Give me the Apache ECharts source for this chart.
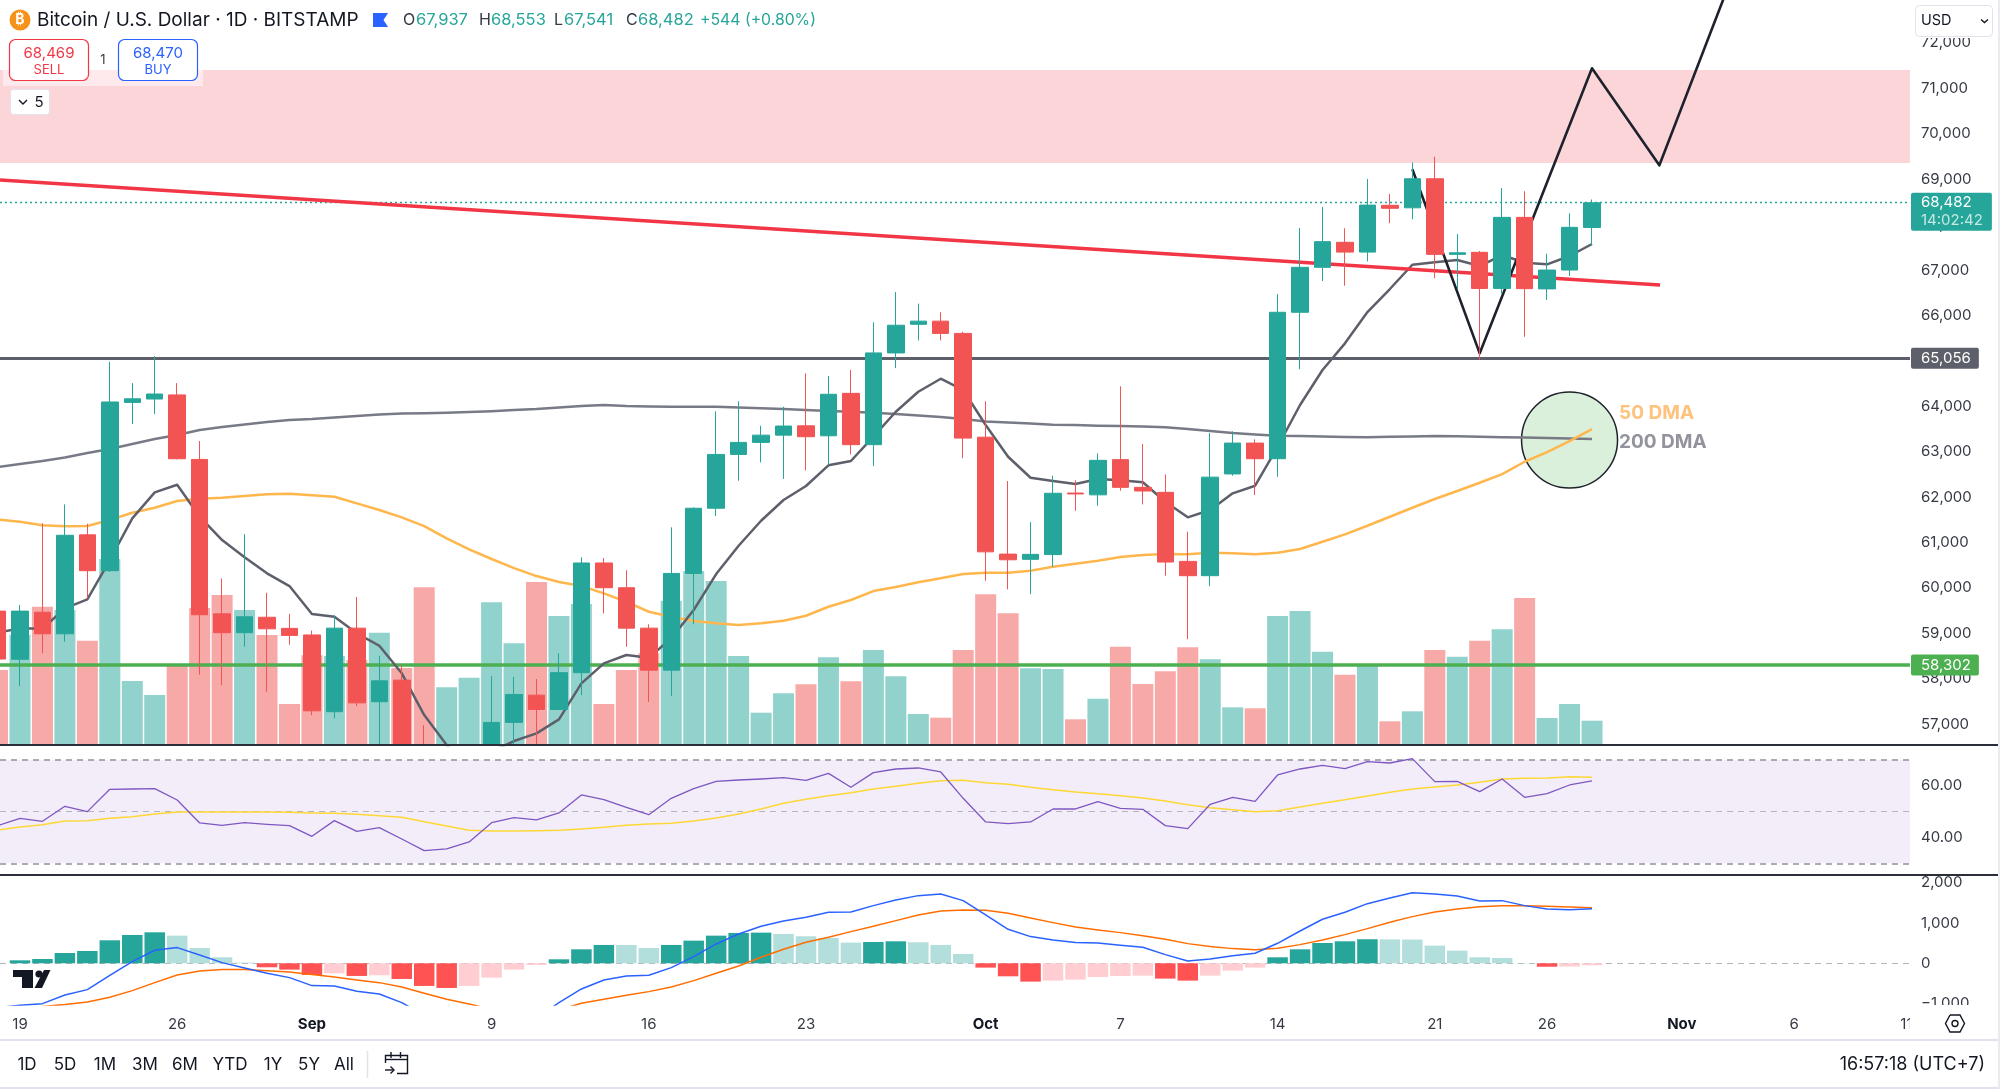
<!DOCTYPE html>
<html>
<head>
<meta charset="utf-8">
<style>
  html, body { margin: 0; padding: 0; background: #fff; }
  #main { width: 2000px; height: 1089px; }
</style>
<script src="https://cdn.jsdelivr.net/npm/echarts@6/dist/echarts.min.js"></script>
</head>
<body>
<div id="main"></div>
<script>
// day number of each candle, 0 = Aug 19
const firstDay = -1
const priceOpen = [
  59490, 58430, 59465, 58990, 61170, 60380, 64085, 64160, 64250, 62830,
  59430, 59015, 59355, 59110, 58965, 57275, 59115, 57495, 57970, 56545,
  55700, 56200, 56542, 57040, 57640, 57325, 58135, 60550, 60005, 59115,
  58190, 60320, 61755, 62940, 63205, 63365, 63570, 63350, 64285, 63155,
  65175, 65805, 65875, 65605, 63320, 60745, 60630, 60735, 62090, 62050,
  62825, 62215, 62105, 60585, 60270, 62510, 63190, 62845, 66070, 67060,
  67610, 67395, 68425, 68370, 69010, 67345, 67390, 66595, 68160, 66585,
  67000, 67937
]
const priceClose = [
  58435, 59490, 58990, 61160, 60380, 64095, 64165, 64270, 62845, 59410,
  59015, 59365, 59100, 58955, 57295, 59115, 57470, 57955, 56542, 56542,
  56200, 56450, 57040, 57655, 57325, 58135, 60550, 60005, 59115, 58190,
  60320, 61755, 62940, 63205, 63365, 63565, 63330, 64265, 63155, 65175,
  65785, 65875, 65605, 63300, 60795, 60620, 60740, 62085, 62070, 62810,
  62215, 62135, 60570, 60270, 62440, 63190, 62845, 66070, 67060, 67625,
  67395, 68430, 68360, 69010, 67345, 67380, 66595, 68160, 66590, 67000,
  67940, 68482
]
const priceLow = [
  58300, 57840, 58560, 58815, 59770, 60355, 63610, 63830, 62830, 58090,
  57860, 58705, 57715, 58750, 57200, 57130, 57400, 56542, 56542, 56542,
  55500, 56000, 56542, 56542, 56542, 57310, 57640, 59440, 58705, 57490,
  57620, 59200, 61585, 62360, 62765, 62400, 62590, 62715, 62940, 62685,
  64840, 65450, 65450, 62860, 60160, 59970, 59865, 60465, 61700, 61810,
  62140, 61840, 60270, 58870, 60040, 62470, 62045, 62450, 64815, 66760,
  66655, 67190, 68030, 68115, 66820, 66575, 65020, 66485, 65530, 66340,
  66870, 67541
]
const priceHigh = [
  59600, 59625, 61425, 61840, 61415, 64980, 64510, 65105, 64510, 63235,
  60210, 61185, 59895, 59425, 59060, 59395, 59800, 58505, 58300, 56980,
  56400, 56500, 58060, 58040, 57995, 58560, 60675, 60660, 60390, 59200,
  61335, 61775, 63890, 64110, 63570, 63990, 64725, 64665, 64800, 65850,
  66515, 66260, 66070, 65640, 64110, 62355, 61450, 62470, 62370, 62965,
  64440, 63170, 62500, 61240, 63410, 63450, 63270, 66470, 67925, 68390,
  67920, 69005, 68675, 69370, 69495, 67795, 67420, 68805, 68735, 67360,
  68250, 68553
]
const volume = [
  750, 1103, 1383, 1350, 1043, 1860, 640, 500, 790, 1370,
  1500, 1350, 1100, 410, 897, 890, 850, 1123, 770, 1577,
  577, 673, 1427, 1017, 1630, 1290, 1410, 410, 750, 917,
  1443, 1740, 1640, 890, 323, 517, 607, 877, 637, 950,
  687, 310, 273, 950, 1507, 1317, 767, 760, 257, 463,
  983, 610, 737, 977, 857, 377, 367, 1290, 1340, 933,
  703, 810, 237, 337, 950, 883, 1043, 1157, 1470, 270,
  410, 243
]
const ma9 = [
  59014, 59111, 59102, 59551, 59749, 60615, 61533, 62105, 62273, 61568,
  61055, 60674, 60322, 60042, 59426, 59366, 59000, 58727, 58120, 57201,
  56541, 56000, 56400, 56629, 56798, 57107, 57899, 58340, 58523, 58463,
  58890, 59514, 60306, 60929, 61480, 61936, 62244, 62700, 62795, 63330,
  63880, 64321, 64607, 64358, 63587, 62889, 62427, 62354, 62288, 62398,
  62370, 62326, 61898, 61555, 61716, 62083, 62251, 63109, 64028, 64798,
  65386, 66076, 66582, 67117, 67170, 67221, 67088, 67331, 67161, 67126,
  67309, 67573
]
const ma50 = [
  61506, 61458, 61379, 61357, 61363, 61495, 61656, 61766, 61914, 61964,
  61986, 62024, 62061, 62075, 62039, 62008, 61863, 61716, 61555, 61363,
  61092, 60850, 60637, 60438, 60262, 60130, 60042, 59881, 59696, 59476,
  59366, 59271, 59221, 59183, 59221, 59278, 59388, 59586, 59734, 59932,
  60020, 60124, 60212, 60306, 60335, 60335, 60379, 60467, 60533, 60599,
  60681, 60725, 60747, 60740, 60775, 60762, 60740, 60775, 60857, 61018,
  61180, 61370, 61568, 61766, 61958, 62134, 62317, 62508, 62779, 62993,
  63235, 63499
]
const ma200 = [
  62662, 62729, 62795, 62872, 62971, 63059, 63169, 63279, 63367, 63477,
  63543, 63598, 63653, 63697, 63719, 63752, 63785, 63818, 63840, 63845,
  63858, 63874, 63891, 63918, 63940, 63973, 64006, 64028, 64006, 63995,
  63990, 63990, 63990, 63973, 63955, 63940, 63918, 63896, 63880, 63858,
  63830, 63796, 63763, 63719, 63664, 63642, 63620, 63594, 63587, 63572,
  63565, 63554, 63537, 63499, 63455, 63411, 63378, 63352, 63345, 63334,
  63323, 63317, 63328, 63334, 63345, 63341, 63330, 63317, 63312, 63301,
  63290, 63279
]
const rsi = [
  44.6, 47.43, 46.27, 52.08, 50.01, 58.65, 58.78, 58.91, 54.53, 45.63,
  44.73, 45.76, 45.11, 44.6, 40.47, 46.53, 42.4, 43.82, 39.44, 34.93,
  35.57, 38.28, 45.76, 47.69, 46.79, 49.5, 56.46, 54.66, 51.69, 48.85,
  55.17, 58.91, 61.75, 62.26, 62.65, 63.17, 62.13, 64.84, 59.43, 65.1,
  66.52, 66.91, 65.36, 55.17, 46.02, 45.37, 46.02, 51.04, 51.04, 53.88,
  51.3, 50.92, 44.6, 43.44, 52.85, 55.56, 54.01, 64.2, 66.52, 67.94,
  66.65, 69.36, 68.84, 70.52, 61.62, 61.75, 57.75, 62.65, 55.56, 56.98,
  60.33, 61.88
]
const rsiMa = [
  42.92, 44.08, 44.98, 46.4, 46.53, 47.43, 48.08, 49.11, 49.88, 49.88,
  49.88, 49.88, 49.88, 49.75, 49.5, 49.37, 48.98, 48.47, 47.82, 46.14,
  44.47, 42.79, 42.53, 42.53, 42.66, 42.79, 43.31, 43.95, 44.73, 45.24,
  45.5, 46.4, 47.56, 49.11, 51.04, 53.24, 54.78, 56.2, 57.36, 58.78,
  59.81, 60.97, 62.0, 62.13, 61.23, 60.59, 59.43, 58.52, 57.62, 56.98,
  56.2, 55.3, 54.14, 52.72, 51.56, 50.79, 50.01, 50.4, 51.82, 53.24,
  54.66, 56.07, 57.49, 58.78, 59.56, 60.33, 61.36, 62.65, 62.91, 63.04,
  63.55, 63.29
]
const macd = [
  -1100, -1042, -1001, -786, -653, -298, 41, 323, 389, 207,
  17, -116, -248, -356, -554, -562, -695, -761, -976, -1282,
  -1489, -1654, -1737, -1654, -1365, -976, -637, -414, -314, -298,
  -107, 165, 480, 728, 918, 1050, 1141, 1265, 1274, 1431,
  1571, 1679, 1720, 1555, 1199, 844, 662, 579, 513, 504,
  447, 397, 215, 58, 108, 190, 248, 496, 802, 1092,
  1265, 1480, 1621, 1753, 1720, 1671, 1546, 1555, 1431, 1348,
  1331, 1356
]
const macdSignal = [
  -1571, -1323, -1075, -1025, -959, -844, -678, -480, -289, -190,
  -157, -157, -182, -215, -281, -339, -414, -480, -587, -744,
  -893, -1009, -1141, -1257, -1282, -1158, -992, -893, -794, -703,
  -587, -430, -248, -66, 149, 347, 521, 645, 786, 918,
  1059, 1199, 1298, 1323, 1315, 1241, 1125, 1009, 901, 827,
  761, 686, 595, 488, 414, 364, 339, 372, 463, 579,
  711, 860, 1017, 1158, 1274, 1348, 1406, 1431, 1431, 1414,
  1398, 1381
]
const macdHist = [
  0, 74, 107, 256, 306, 571, 703, 769, 686, 380,
  149, 17, -99, -157, -289, -248, -314, -298, -389, -562,
  -612, -562, -356, -157, -41, 99, 347, 455, 455, 380,
  455, 562, 686, 753, 761, 728, 670, 628, 513, 529,
  546, 521, 455, 232, -107, -323, -455, -430, -405, -339,
  -314, -306, -380, -430, -306, -182, -107, 149, 347, 504,
  546, 597, 593, 590, 438, 314, 149, 132, 8, -85,
  -80, -50
]

const priceTicks = [57000, 58000, 59000, 60000, 61000, 62000, 63000, 64000, 65000, 66000, 67000, 68000, 69000, 70000, 71000, 72000]
const rsiTicks = [40, 60]
const macdTicks = [-1000, 0, 1000, 2000]
const dayTicks = [0, 7, 13, 21, 28, 35, 43, 49, 56, 63, 68, 74, 79, 84]
const dayLabels = ['19', '26', 'Sep', '9', '16', '23', 'Oct', '7', '14', '21', '26', 'Nov', '6', '11']
const monthLabels = ['Sep', 'Oct', 'Nov']

// drawings on the price pane
const zoneTop = 71404
const zoneBottom = 69356
const supportLevel = 65056
const lowLevel = 58302
const lastPrice = 68482
const trendDays = [-0.89, 73.03]
const trendPrices = [68982, 66670]
const zigzagDays = [62, 65, 70, 73, 76]
const zigzagPrices = [69218, 65166, 71442, 69306, 73157]
const crossDay = 69
const crossPrice = 63257

const UP = '#26a69a'
const DOWN = '#f25353'
const FONT = 'Inter, "Noto Sans", sans-serif'
const TEXT = '#363a45'

const dayOf = i => i + firstDay
const zip = arr => arr.map((v, i) => [dayOf(i), v])

const xRange = { min: -0.89, max: 84.16 }
const labelStyle = { color: TEXT, fontFamily: FONT, fontSize: 15, margin: 11 }
const noAxisParts = { axisLine: { show: false }, axisTick: { show: false }, splitLine: { show: false } }

const volumeData = volume.map((v, i) => ({
  value: [dayOf(i), v],
  itemStyle: { color: priceClose[i] >= priceOpen[i] ? 'rgba(38,166,154,0.5)' : 'rgba(239,83,80,0.5)' }
}))

const histData = macdHist.map((v, i) => {
  const prev = i ? macdHist[i - 1] : 0
  let color
  if (v >= 0) color = v > prev ? '#26a69a' : '#b2dfdb'
  else color = v < prev ? '#ff5252' : '#ffcdd2'
  return { value: [dayOf(i), v], itemStyle: { color } }
})

const candleData = priceOpen.map((o, i) => [dayOf(i), o, priceClose[i], priceLow[i], priceHigh[i]])

const lineSeries = (name, data, color, width, z, gridIdx) => ({
  name, type: 'line', data, xAxisIndex: gridIdx, yAxisIndex: gridIdx === 0 ? 0 : gridIdx + 1,
  showSymbol: false, symbol: 'none', silent: true, z,
  lineStyle: { color, width, join: 'round' }
})

const levelBox = (color) => ({
  show: true, position: 'end', distance: 1, color: '#fff', fontFamily: FONT, fontSize: 15,
  backgroundColor: color, borderRadius: 2, padding: [3, 8, 3, 10],
  formatter: p => p.value.toLocaleString('en-US')
})

const levelSeries = (value, color, width, dash, label) => ({
  type: 'line', data: [], xAxisIndex: 0, yAxisIndex: 0, z: 3, silent: true,
  markLine: {
    silent: true, symbol: 'none', animation: false, z: 3,
    lineStyle: { color, width, type: dash, opacity: 1 },
    label,
    data: [{ yAxis: value }]
  }
})

const gText = (text, x, y, fill, font, extra) => ({
  type: 'text', z: 12, silent: true,
  style: Object.assign({ text, x, y, fill, font: font + ' ' + FONT, verticalAlign: 'middle', textVerticalAlign: 'middle' }, extra)
})
const gRect = (x, y, width, height, style, r, z) => ({
  type: 'rect', z: z || 11, silent: true, shape: { x, y, width, height, r: r || 0 }, style
})
const gPoly = (points, fill) => ({ type: 'polygon', z: 12, silent: true, shape: { points }, style: { fill } })
const gStroke = (points, lineWidth) => ({
  type: 'polyline', z: 12, silent: true, shape: { points }, style: { fill: 'none', stroke: '#131722', lineWidth: lineWidth || 1.4 }
})
const gLine = (x1, y1, x2, y2, stroke, lineWidth, z) => ({
  type: 'line', z: z || 12, silent: true, shape: { x1, y1, x2, y2 }, style: { stroke, lineWidth }
})

const rangeButtons = [['1D', 27], ['5D', 65], ['1M', 105], ['3M', 145], ['6M', 185], ['YTD', 230], ['1Y', 273], ['5Y', 309], ['All', 344]]

const graphics = [
  // covers what runs past the panes (cut off -1,000, 11 and 72,000)
  gRect(1910, 1005, 90, 34, { fill: '#fff' }, 0, 10),
  gRect(1910, 0, 90, 38, { fill: '#fff' }, 0, 10),
  // pane dividers and footer
  gLine(0, 745, 2000, 745, '#2a2e39', 2),
  gLine(0, 875, 2000, 875, '#2a2e39', 2),
  gLine(0, 1040, 2000, 1040, '#e0e3eb', 2),
  gLine(0, 1088, 2000, 1088, '#e0e3eb', 2),
  gLine(1999, 0, 1999, 1089, '#e9ebf0', 2),
  // header
  { type: 'circle', z: 12, silent: true, shape: { cx: 20, cy: 20, r: 10.5 }, style: { fill: '#f7931a' } },
  gText('₿', 20, 20, '#fff', 'bold 14px', { align: 'center', textAlign: 'center' }),
  gText('Bitcoin / U.S. Dollar · 1D · BITSTAMP', 37, 20, '#131722', '19px'),
  gPoly([[373, 13], [388, 13], [383.5, 20], [388, 27], [373, 27]], '#2962ff'),
  gText('O', 403, 20, TEXT, '16px'),
  gText('67,937', 416, 20, UP, '16.5px'),
  gText('H', 479, 20, TEXT, '16px'),
  gText('68,553', 491, 20, UP, '16.5px'),
  gText('L', 554, 20, TEXT, '16px'),
  gText('67,541', 564, 20, UP, '16.5px'),
  gText('C', 626, 20, TEXT, '16px'),
  gText('68,482', 638, 20, UP, '16.5px'),
  gText('+544 (+0.80%)', 700, 20, UP, '15.8px'),
  // order buttons
  gRect(3, 35, 200, 51, { fill: 'rgba(255,255,255,0.5)' }, 0, 11),
  gRect(9.5, 39.5, 79, 41, { fill: '#fff', stroke: '#f23645', lineWidth: 1.2 }, 6),
  gText('68,469', 49, 53, '#f23645', '15px', { align: 'center', textAlign: 'center' }),
  gText('SELL', 49, 70, '#f23645', '13px', { align: 'center', textAlign: 'center' }),
  gText('1', 103, 60, TEXT, '13px', { align: 'center', textAlign: 'center' }),
  gRect(118.5, 39.5, 79, 41, { fill: '#fff', stroke: '#2962ff', lineWidth: 1.2 }, 6),
  gText('68,470', 158, 53, '#2962ff', '15px', { align: 'center', textAlign: 'center' }),
  gText('BUY', 158, 70, '#2962ff', '13px', { align: 'center', textAlign: 'center' }),
  gRect(10.5, 89.5, 39, 25, { fill: '#fff', stroke: '#e0e3eb', lineWidth: 1 }, 3),
  gStroke([[19, 100], [23, 104], [27, 100]]),
  gText('5', 39, 102, '#131722', '15px', { align: 'center', textAlign: 'center' }),
  // currency box
  gRect(1915.5, 5.5, 77, 31, { fill: '#fff', stroke: '#e0e3eb', lineWidth: 1 }, 4, 11),
  gText('USD', 1921, 21, '#131722', '14.5px'),
  gStroke([[1981, 19.5], [1984.5, 22.5], [1988, 19.5]]),
  // chart captions
  gText('50 DMA', 1619, 413, '#fdc27c', 'bold 19px'),
  gText('200 DMA', 1619, 442, '#92939d', 'bold 19px'),
  // logo
  gPoly([[13, 970], [33, 970], [33, 988], [22, 988], [22, 977], [13, 977]], '#131722'),
  { type: 'circle', z: 12, silent: true, shape: { cx: 39, cy: 974, r: 3.6 }, style: { fill: '#131722' } },
  gPoly([[44, 970], [50.5, 970], [42, 988], [34.5, 988]], '#131722'),
  // footer
  gLine(367.5, 1051, 367.5, 1078, '#e0e3eb', 1.5),
  gStroke([[385.5, 1063], [385.5, 1055.5], [407.5, 1055.5], [407.5, 1073.5], [397, 1073.5]]),
  gStroke([[385.5, 1059.5], [407.5, 1059.5]]),
  gStroke([[391, 1052], [391, 1058]]),
  gStroke([[400.5, 1052], [400.5, 1058]]),
  gStroke([[385, 1070], [393.5, 1070]]),
  gStroke([[390.5, 1066.5], [394, 1070], [390.5, 1073.5]]),
  gText('16:57:18 (UTC+7)', 1985, 1065, '#131722', '18px', { align: 'right', textAlign: 'right' }),
  gStroke([[1950, 1015], [1960, 1015], [1964.5, 1023.5], [1960, 1032], [1950, 1032], [1945.5, 1023.5], [1950, 1015]]),
  { type: 'circle', z: 13, silent: true, shape: { cx: 1955, cy: 1023.5, r: 3 }, style: { fill: 'none', stroke: '#131722', lineWidth: 1.4 } }
].concat(rangeButtons.map(b => gText(b[0], b[1], 1065, '#131722', '17px', { align: 'center', textAlign: 'center' })))

const option = {
  animation: false,
  backgroundColor: '#fff',
  grid: [
    { left: 0, top: 0, width: 1910, height: 745 },
    { left: 0, top: 745, width: 1910, height: 130 },
    { left: 0, top: 875, width: 1910, height: 130 }
  ],
  xAxis: [
    Object.assign({ type: 'value', gridIndex: 0, axisLabel: { show: false } }, xRange, noAxisParts),
    Object.assign({ type: 'value', gridIndex: 1, axisLabel: { show: false } }, xRange, noAxisParts),
    Object.assign({
      type: 'value', gridIndex: 2, z: 1,
      axisLabel: Object.assign({}, labelStyle, {
        customValues: dayTicks, margin: 12,
        hideOverlap: false, showMinLabel: true, showMaxLabel: true,
        formatter: v => {
          const t = dayLabels[dayTicks.indexOf(v)]
          return monthLabels.includes(t) ? '{m|' + t + '}' : t
        },
        rich: { m: { fontFamily: FONT, fontSize: 15, fontWeight: 'bold', color: '#131722' } }
      })
    }, xRange, noAxisParts)
  ],
  yAxis: [
    Object.assign({
      type: 'value', gridIndex: 0, position: 'right', min: 56542, max: 72946,
      axisLabel: Object.assign({}, labelStyle, {
        customValues: priceTicks,
        formatter: v => v.toLocaleString('en-US')
      })
    }, noAxisParts),
    Object.assign({ type: 'value', gridIndex: 0, position: 'right', min: 0, max: 7450, axisLabel: { show: false } }, noAxisParts),
    Object.assign({
      type: 'value', gridIndex: 1, position: 'right', min: 25.5, max: 75.8,
      axisLabel: Object.assign({}, labelStyle, {
        customValues: rsiTicks,
        formatter: v => v.toFixed(2)
      })
    }, noAxisParts),
    Object.assign({
      type: 'value', gridIndex: 2, position: 'right', min: -1035, max: 2191,
      axisLabel: Object.assign({}, labelStyle, {
        customValues: macdTicks,
        formatter: v => (v < 0 ? '−' : '') + Math.abs(v).toLocaleString('en-US')
      })
    }, noAxisParts)
  ],
  series: [
    // supply zone
    {
      type: 'line', data: [], xAxisIndex: 0, yAxisIndex: 0, z: 1, silent: true,
      markArea: {
        silent: true, z: 1,
        itemStyle: { color: '#fcd5d9' },
        data: [[{ yAxis: zoneBottom }, { yAxis: zoneTop }]]
      }
    },
    {
      name: 'Volume', type: 'bar', data: volumeData, xAxisIndex: 0, yAxisIndex: 1,
      barWidth: 21, z: 2, silent: true
    },
    // circle marking the crossover
    {
      type: 'line', data: [], xAxisIndex: 0, yAxisIndex: 0, z: 2, silent: true,
      markPoint: {
        silent: true, symbol: 'circle', symbolSize: 96, z: 2,
        itemStyle: { color: '#dbf0db', borderColor: '#1e222d', borderWidth: 1.5 },
        label: { show: false },
        data: [{ coord: [crossDay, crossPrice] }]
      }
    },
    levelSeries(supportLevel, '#5d606b', 3, 'solid', levelBox('#5d606b')),
    levelSeries(lowLevel, '#4caf50', 3.5, 'solid', levelBox('#4caf50')),
    levelSeries(lastPrice, UP, 1.3, [2, 3], {
      show: true, position: 'end', distance: 1, color: '#fff', fontFamily: FONT, fontSize: 15,
      backgroundColor: UP, borderRadius: 2, padding: [1, 9, 1, 10], lineHeight: 18, offset: [0, 9],
      formatter: '68,482\n{t|14:02:42}',
      rich: { t: { color: '#c6e8e3', fontFamily: FONT, fontSize: 15, lineHeight: 18 } }
    }),
    lineSeries('MA 200', zip(ma200), '#787b86', 2.5, 3, 0),
    lineSeries('MA 50', zip(ma50), '#ffb74d', 2.5, 3, 0),
    lineSeries('MA 9', zip(ma9), '#5d606b', 2.5, 3, 0),
    lineSeries('Trend', trendDays.map((d, i) => [d, trendPrices[i]]), '#f23645', 3.5, 3, 0),
    lineSeries('Path', zigzagDays.map((d, i) => [d, zigzagPrices[i]]), '#1e222d', 2.6, 4, 0),
    {
      name: 'BTCUSD', type: 'candlestick', data: candleData, xAxisIndex: 0, yAxisIndex: 0,
      barWidth: 17, z: 6, silent: true,
      itemStyle: { color: UP, color0: DOWN, borderColor: UP, borderColor0: DOWN, borderWidth: 1 }
    },
    // RSI pane
    {
      type: 'line', data: [], xAxisIndex: 1, yAxisIndex: 2, z: 1, silent: true,
      markArea: { silent: true, z: 1, itemStyle: { color: '#f3edf9' }, data: [[{ yAxis: 30 }, { yAxis: 70 }]] },
      markLine: {
        silent: true, symbol: 'none', animation: false, label: { show: false }, z: 2,
        lineStyle: { color: '#8f9199', width: 1.6, type: [6, 5], opacity: 1 },
        data: [
          { yAxis: 70 },
          { yAxis: 30 },
          { yAxis: 50, lineStyle: { color: '#b4b5bd', width: 1.2, type: [6, 5] } }
        ]
      }
    },
    lineSeries('RSI MA', zip(rsiMa), '#fdd835', 1.5, 3, 1),
    lineSeries('RSI', zip(rsi), '#7e57c2', 1.3, 4, 1),
    // MACD pane
    {
      type: 'line', data: [], xAxisIndex: 2, yAxisIndex: 3, z: 1, silent: true,
      markLine: {
        silent: true, symbol: 'none', animation: false, label: { show: false }, z: 1,
        lineStyle: { color: '#b4b5bd', width: 1.2, type: [6, 5], opacity: 1 },
        data: [{ yAxis: 0 }]
      }
    },
    {
      name: 'Histogram', type: 'bar', data: histData, xAxisIndex: 2, yAxisIndex: 3,
      barWidth: 20.5, z: 2, silent: true
    },
    lineSeries('Signal', zip(macdSignal), '#ff6d00', 1.5, 3, 2),
    lineSeries('MACD', zip(macd), '#2962ff', 1.5, 4, 2)
  ],
  graphic: graphics
}

const mChart = echarts.init(document.getElementById('main'), null, { renderer: 'canvas' })
mChart.setOption(option)
</script>
</body>
</html>
